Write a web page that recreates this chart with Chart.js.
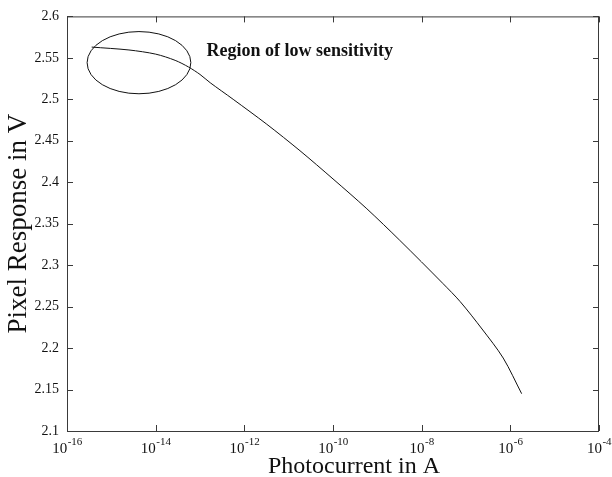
<!DOCTYPE html>
<html>
<head>
<meta charset="utf-8">
<script src="https://cdn.jsdelivr.net/npm/chart.js@4/dist/chart.umd.min.js"></script>
<style>
  body { margin: 0; background: #fff; }
  #wrap { width: 612px; height: 477px; }
</style>
</head>
<body>
<div id="wrap"><canvas id="chart"></canvas></div>
<script>
/* =======================
   DATA
======================= */
// photocurrent (A) and pixel response (V)
const photocurrent = [3.6e-16, 2.5e-15, 1.0e-14, 2.75e-14, 5.5e-14, 1.0e-13, 1.7e-13, 5.6e-13,
  3.2e-12, 1.8e-11, 1.0e-10, 5.8e-10, 3.2e-9, 3.0e-8, 7.4e-8, 2.3e-7, 6.9e-7, 1.8e-6];
const pixelResponse = [2.563, 2.5595, 2.5545, 2.547, 2.539, 2.530, 2.520, 2.500,
  2.470, 2.438, 2.404, 2.368, 2.330, 2.278, 2.256, 2.223, 2.188, 2.145];

const xTickExps = [-16, -14, -12, -10, -8, -6, -4];
const yTicks = [2.1, 2.15, 2.2, 2.25, 2.3, 2.35, 2.4, 2.45, 2.5, 2.55, 2.6];
const yTickLabels = ['2.1', '2.15', '2.2', '2.25', '2.3', '2.35', '2.4', '2.45', '2.5', '2.55', '2.6'];

const xTitle = 'Photocurrent in A';
const yTitle = 'Pixel Response in V';
const noteText = 'Region of low sensitivity';
const notePos = [1.4e-13, 2.552];
// ellipse round the flat start of the curve
const ellipseCenter = [4.2e-15, 2.5442];
const ellipseHalfDecades = 1.17;
const ellipseHalfV = 0.0375;

const SERIF = '"Liberation Serif", "Times New Roman", serif';

/* =======================
   FRAME / LABELS PLUGIN
======================= */
const framePlugin = {
  id: 'frame',
  afterDraw(chart) {
    const ctx = chart.ctx;
    const {left, right, top, bottom} = chart.chartArea;
    const xs = chart.scales.x, ys = chart.scales.y;
    ctx.save();

    // box
    ctx.strokeStyle = '#3a3a3a';
    ctx.lineWidth = 1;
    ctx.strokeRect(left + 0.5, top + 0.5, right - left - 1, bottom - top);

    // inward ticks on all four sides
    ctx.beginPath();
    xs.ticks.forEach(t => {
      const px = Math.round(xs.getPixelForValue(t.value)) + 0.5;
      ctx.moveTo(px, bottom); ctx.lineTo(px, bottom - 6);
      ctx.moveTo(px, top); ctx.lineTo(px, top + 6);
    });
    ys.ticks.forEach(t => {
      const py = Math.round(ys.getPixelForValue(t.value)) + 0.5;
      ctx.moveTo(left, py); ctx.lineTo(left + 6, py);
      ctx.moveTo(right, py); ctx.lineTo(right - 6, py);
    });
    ctx.stroke();

    // x tick labels: 10 with exponent
    ctx.fillStyle = '#111';
    ctx.textBaseline = 'alphabetic';
    xTickExps.forEach(e => {
      const px = xs.getPixelForValue(Math.pow(10, e));
      ctx.font = '15px ' + SERIF;
      const baseW = ctx.measureText('10').width;
      ctx.font = '11px ' + SERIF;
      const expStr = '-' + Math.abs(e);
      const expW = ctx.measureText(expStr).width;
      const x0 = px - (baseW + expW) / 2;
      ctx.font = '15px ' + SERIF;
      ctx.textAlign = 'left';
      ctx.fillText('10', x0, bottom + 22);
      ctx.font = '11px ' + SERIF;
      ctx.fillText(expStr, x0 + baseW + 0.5, bottom + 14);
    });

    // x title
    ctx.font = '24px ' + SERIF;
    ctx.textAlign = 'center';
    ctx.fillText(xTitle, 354, bottom + 42);

    // ellipse
    const cx = xs.getPixelForValue(ellipseCenter[0]);
    const cy = ys.getPixelForValue(ellipseCenter[1]);
    const rx = xs.getPixelForValue(ellipseCenter[0] * Math.pow(10, ellipseHalfDecades)) - cx;
    const ry = cy - ys.getPixelForValue(ellipseCenter[1] + ellipseHalfV);
    ctx.strokeStyle = '#111';
    ctx.beginPath();
    ctx.ellipse(cx, cy, rx, ry, 0, 0, Math.PI * 2);
    ctx.stroke();

    // annotation
    ctx.font = 'bold 18px ' + SERIF;
    ctx.textAlign = 'left';
    ctx.fillText(noteText, xs.getPixelForValue(notePos[0]), ys.getPixelForValue(notePos[1]));

    ctx.restore();
  }
};

/* =======================
   CHART
======================= */
const points = photocurrent.map((x, i) => ({x, y: pixelResponse[i]}));

new Chart(document.getElementById('chart'), {
  type: 'line',
  data: {
    datasets: [{
      data: points,
      borderColor: '#111',
      borderWidth: 1,
      pointRadius: 0,
      fill: false,
      tension: 0.3
    }]
  },
  options: {
    responsive: true,
    maintainAspectRatio: false,
    animation: false,
    layout: { padding: { top: 13, right: 13, left: 0, bottom: 0 } },
    plugins: { legend: { display: false }, tooltip: { enabled: false } },
    scales: {
      x: {
        type: 'logarithmic',
        min: 1e-16,
        max: 1e-4,
        afterBuildTicks: s => { s.ticks = xTickExps.map(e => ({value: Math.pow(10, e)})); },
        afterFit: s => { s.height = 46; },
        grid: { display: false, drawTicks: false },
        border: { display: false },
        ticks: { display: false }
      },
      y: {
        min: 2.1,
        max: 2.6,
        afterBuildTicks: s => { s.ticks = yTicks.map(v => ({value: v})); },
        afterFit: s => { s.width = 67; },
        grid: { display: false, drawTicks: false },
        border: { display: false },
        ticks: {
          padding: 8,
          color: '#111',
          font: { family: SERIF, size: 14 },
          callback: (v, i) => yTickLabels[i]
        },
        title: {
          display: true,
          text: yTitle,
          color: '#111',
          font: { family: SERIF, size: 27 },
          padding: { top: 3, bottom: 0 }
        }
      }
    }
  },
  plugins: [framePlugin]
});
</script>
</body>
</html>
